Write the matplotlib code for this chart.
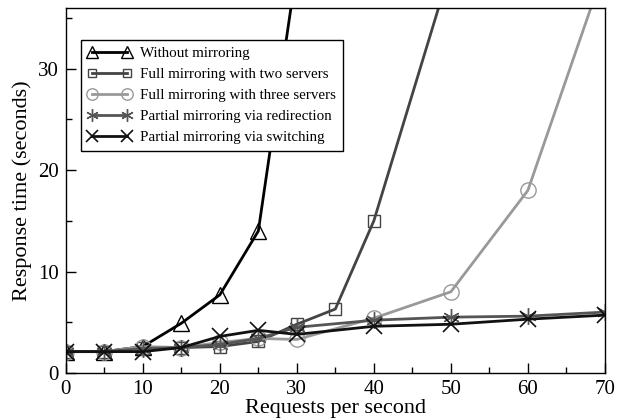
import matplotlib
matplotlib.use("Agg")
import matplotlib.pyplot as plt
from matplotlib.ticker import MultipleLocator

plt.rcParams['font.family'] = ['Liberation Serif', 'DejaVu Serif']

# --- datos ---
no_mirror_x = [0, 5, 10, 15, 20, 25, 30]
no_mirror_y = [2.1, 2.1, 2.6, 4.9, 7.7, 14.0, 40.0]

two_srv_x = [0, 5, 10, 15, 20, 25, 30, 35, 40, 50]
two_srv_y = [2.1, 2.1, 2.5, 2.5, 2.6, 3.1, 4.8, 6.3, 15.0, 40.0]

three_srv_x = [0, 5, 10, 15, 20, 25, 30, 40, 50, 60, 70]
three_srv_y = [2.1, 2.1, 2.6, 2.5, 3.0, 3.4, 3.3, 5.4, 8.0, 18.0, 40.0]

redir_x = [0, 5, 10, 15, 20, 25, 30, 40, 50, 60, 70]
redir_y = [2.1, 2.1, 2.4, 2.5, 2.8, 3.4, 4.5, 5.2, 5.5, 5.6, 6.0]

switch_x = [0, 5, 10, 15, 20, 25, 30, 40, 50, 60, 70]
switch_y = [2.1, 2.1, 2.1, 2.5, 3.6, 4.2, 3.8, 4.6, 4.8, 5.3, 5.7]

labels = ["Without mirroring",
          "Full mirroring with two servers",
          "Full mirroring with three servers",
          "Partial mirroring via redirection",
          "Partial mirroring via switching"]

# --- figura ---
fig = plt.figure(figsize=(6.21, 4.19), dpi=100)
ax = fig.add_axes([0.106, 0.11, 0.868, 0.871])

ax.plot(no_mirror_x, no_mirror_y, color='black', lw=2, marker='^', ms=11,
        mfc='none', mec='black', mew=1.0, label=labels[0])
ax.plot(two_srv_x, two_srv_y, color='#444444', lw=2, marker='s', ms=8,
        mfc='none', mec='#444444', mew=1.0, label=labels[1])
ax.plot(three_srv_x, three_srv_y, color='#999999', lw=2, marker='o', ms=11,
        mfc='none', mec='#999999', mew=1.0, label=labels[2])
ax.plot(redir_x, redir_y, color='#555555', lw=2, marker=(6, 2, 0), ms=12,
        mec='#555555', mew=1.0, label=labels[3])
ax.plot(switch_x, switch_y, color='#111111', lw=2, marker='x', ms=11,
        mec='#111111', mew=1.2, label=labels[4])

ax.set_xlim(0, 70)
ax.set_ylim(0, 36)
ax.xaxis.set_major_locator(MultipleLocator(10))
ax.xaxis.set_minor_locator(MultipleLocator(5))
ax.yaxis.set_major_locator(MultipleLocator(10))
ax.yaxis.set_minor_locator(MultipleLocator(5))
ax.tick_params(which='both', direction='in', top=False, right=False,
               labelsize=15, width=1)
ax.tick_params(which='major', length=7, pad=5)
ax.tick_params(which='minor', length=4)
for s in ax.spines.values():
    s.set_linewidth(1)

ax.set_xlabel("Requests per second", fontsize=16, labelpad=0)
ax.set_ylabel("Response time (seconds)", fontsize=16, labelpad=4)

leg = ax.legend(loc='upper left', bbox_to_anchor=(0.028, 0.912), numpoints=2,
                handlelength=2.9, fontsize=10.8, fancybox=False, framealpha=1,
                edgecolor='black', borderpad=0.45, labelspacing=0.5,
                handletextpad=0.6, borderaxespad=0, markerscale=0.75)
leg.get_frame().set_linewidth(1)

fig.savefig("out.png", dpi=100)
